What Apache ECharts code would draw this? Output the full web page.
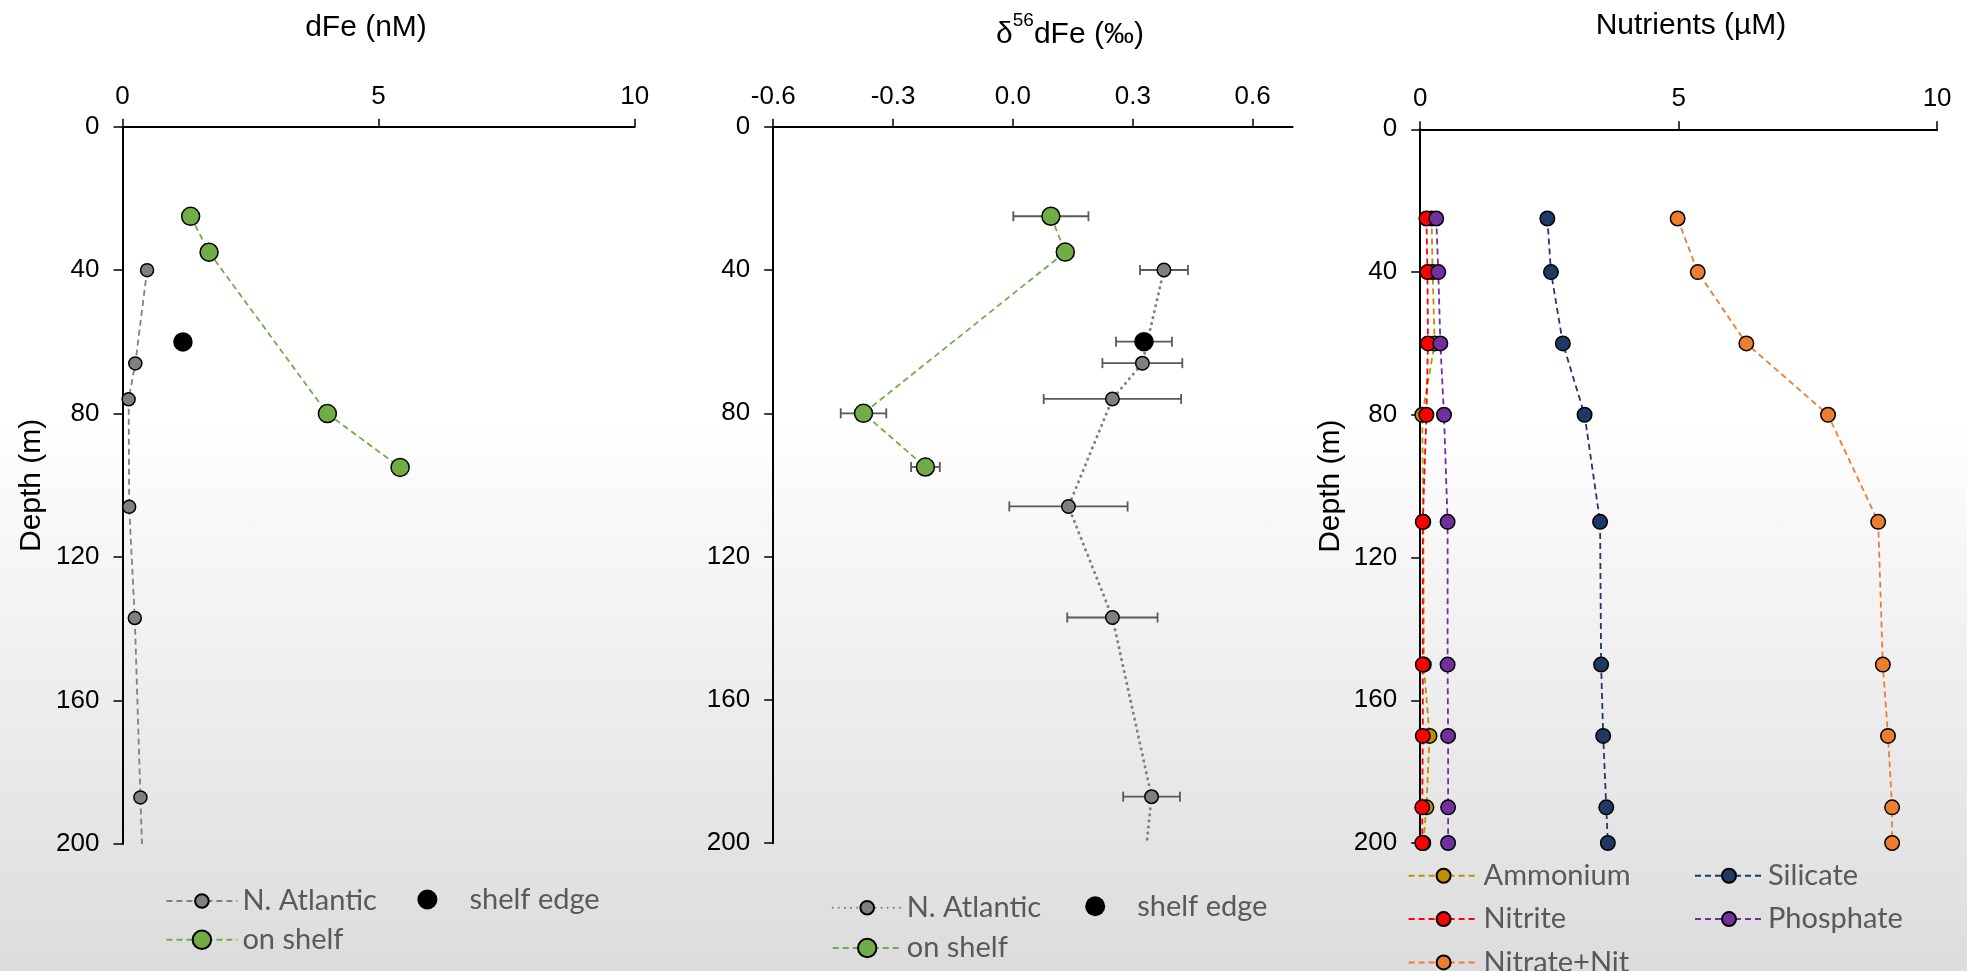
<!DOCTYPE html>
<html><head><meta charset="utf-8">
<script src="https://cdn.jsdelivr.net/npm/echarts@6/dist/echarts.min.js"></script>
<style>
html,body{margin:0;padding:0;width:1967px;height:971px;overflow:hidden;
background:linear-gradient(to bottom,#ffffff 0%,#ffffff 42%,#dcdcdc 100%);}
.c{position:absolute;left:0;top:0;width:1967px;height:971px;}
</style></head><body>
<div id="c1" class="c"></div><div id="c2" class="c"></div><div id="c3" class="c"></div>
<script>
// ---------- DATA ----------
// Panel 1: dFe (nM)
const depthNA = [40, 66, 76, 106, 137, 187, 200];
const dFeNA = [0.48, 0.25, 0.12, 0.13, 0.24, 0.35, 0.38];
const depthShelf = [25, 35, 80, 95];
const dFeShelf = [1.33, 1.69, 4.0, 5.42];
const depthEdge = [60];
const dFeEdge = [1.18];

// Panel 2: d56dFe (permil)
const isoDepthNA = [40, 66, 76, 106, 137, 187, 200];
const isoNA = [0.378, 0.324, 0.249, 0.139, 0.249, 0.347, 0.335];
const isoNAerr = [0.06, 0.10, 0.172, 0.148, 0.113, 0.071, null];
const isoDepthShelf = [25, 35, 80, 95];
const isoShelf = [0.095, 0.131, -0.374, -0.219];
const isoShelfErr = [0.094, 0.02, 0.057, 0.036];
const isoDepthEdge = [60];
const isoEdge = [0.328];
const isoEdgeErr = [0.07];
const isoTicks = [-0.6, -0.3, 0, 0.3, 0.6];

// Panel 3: Nutrients (uM)
const nutDepth = [25, 40, 60, 80, 110, 150, 170, 190, 200];
const ammonium = [0.22, 0.24, 0.28, 0.04, 0.06, 0.07, 0.18, 0.12, 0.06];
const nitrite = [0.12, 0.14, 0.15, 0.12, 0.05, 0.05, 0.05, 0.04, 0.04];
const nitrate = [4.98, 5.37, 6.31, 7.89, 8.86, 8.95, 9.05, 9.13, 9.13];
const silicate = [2.46, 2.53, 2.76, 3.18, 3.48, 3.50, 3.54, 3.60, 3.63];
const phosphate = [0.31, 0.35, 0.39, 0.46, 0.53, 0.53, 0.54, 0.54, 0.54];

const depthMax = 200;

// ---------- HELPERS ----------
const AX_FONT = 'Liberation Sans, Arial, sans-serif';
const LEG_TEXT = {color:'#595959', fontFamily:'Lato, Open Sans, sans-serif', fontSize:29};

function xTop(min, max, interval, extra) {
  return Object.assign({
    type:'value', position:'top', min:min, max:max, interval:interval,
    axisLine:{show:true, onZero:false, lineStyle:{color:'#000', width:2}},
    axisTick:{show:true, length:8, lineStyle:{color:'#000', width:1.5}},
    axisLabel:{color:'#000', fontSize:26, fontFamily:AX_FONT, margin:17},
    splitLine:{show:false}
  }, extra || {});
}
function yDepth(withName, gap) {
  return {
    type:'value', inverse:true, min:0, max:depthMax, interval:40,
    name: withName ? 'Depth (m)' : '', nameLocation:'middle', nameGap:gap || 80,
    nameTextStyle:{color:'#000', fontSize:30, fontFamily:AX_FONT},
    axisLine:{show:true, onZero:false, lineStyle:{color:'#000', width:2}},
    axisTick:{show:true, length:9, lineStyle:{color:'#000', width:1.5}},
    axisLabel:{color:'#000', fontSize:26, fontFamily:AX_FONT, margin:23},
    splitLine:{show:false}
  };
}
// lastHidden: the final point only carries the line down to the axis edge
function pts(xs, ds, lastHidden) {
  return ds.map((d, i) => (lastHidden && i === ds.length - 1)
    ? {value:[xs[i], d], symbolSize:0} : [xs[i], d]);
}
function lineSeries(name, xs, ds, color, size, dash, width, z, lastHidden) {
  return {
    name:name, type:'line', data:pts(xs, ds, lastHidden), symbol:'circle', symbolSize:size,
    showSymbol:true, clip:false, z:z || 3,
    lineStyle:{color:color, width:width || 1.8, type:dash, cap:'butt'},
    itemStyle:{color:color, borderColor:'#000', borderWidth:1.5, opacity:1},
    emphasis:{disabled:true}, animation:false
  };
}
function edgeSeries(xs, ds) {
  return {name:'shelf edge', type:'scatter', symbol:'circle', symbolSize:19.5, z:5,
    data:xs.map((v,i)=>[v, ds[i]]), itemStyle:{color:'#000', opacity:1},
    emphasis:{disabled:true}, animation:false};
}
function errSeries(xs, ds, errs) {
  const data = [];
  xs.forEach((x, i) => { if (errs[i] != null) data.push([x, ds[i], errs[i]]); });
  return {
    type:'custom', z:1, silent:true, animation:false,
    encode:{x:0, y:1},
    renderItem:function(params, api){
      const x = api.value(0), y = api.value(1), e = api.value(2);
      const a = api.coord([x - e, y]), b = api.coord([x + e, y]);
      const h = 5, st = {stroke:'#595959', lineWidth:1.8};
      return {type:'group', children:[
        {type:'line', shape:{x1:a[0], y1:a[1], x2:b[0], y2:b[1]}, style:st},
        {type:'line', shape:{x1:a[0], y1:a[1]-h, x2:a[0], y2:a[1]+h}, style:st},
        {type:'line', shape:{x1:b[0], y1:b[1]-h, x2:b[0], y2:b[1]+h}, style:st}
      ]};
    },
    data:data
  };
}
function leg(name, left, cy, w, h) {
  return {data:[name], left:left, top:cy - h/2, itemWidth:w, itemHeight:h,
    padding:0, selectedMode:false, textStyle:LEG_TEXT, itemGap:0};
}
function title(text, x, y) {
  return {type:'text', x:x, y:y, style:{text:text, fill:'#000', font:'30px ' + AX_FONT,
    align:'center', verticalAlign:'middle'}};
}

// ---------- PANEL 1 ----------
const ch1 = echarts.init(document.getElementById('c1'), null, {renderer:'canvas'});
ch1.setOption({
  backgroundColor:'transparent', animation:false,
  grid:{left:122.5, top:126.7, width:512.2, height:717.3, containLabel:false},
  xAxis:xTop(0, 10, 5),
  yAxis:yDepth(true, 76),
  graphic:[title('dFe (nM)', 366, 28)],
  legend:[
    leg('N. Atlantic', 165.4, 895, 71, 17),
    leg('shelf edge', 417.4, 895, 74, 20),
    leg('on shelf', 165.4, 936.7, 71, 23)
  ],
  series:[
    lineSeries('N. Atlantic', dFeNA, depthNA, '#808080', 13, [6,4], 1.8, 3, true),
    lineSeries('on shelf', dFeShelf, depthShelf, '#70AD47', 18, [6,4], 1.8, 4, false),
    edgeSeries(dFeEdge, depthEdge)
  ]
});

// ---------- PANEL 2 ----------
const ch2 = echarts.init(document.getElementById('c2'), null, {renderer:'canvas'});
const naDotted = lineSeries('N. Atlantic', isoNA, isoDepthNA, '#808080', 13.5, [0.1, 6], 3, 3, true);
naDotted.lineStyle.cap = 'round';
ch2.setOption({
  backgroundColor:'transparent', animation:false,
  grid:{left:773.2, top:126.7, width:519.4, height:716.5, containLabel:false},
  xAxis:xTop(-0.6, 0.7, 0.3, {
    axisTick:{show:true, length:8, lineStyle:{color:'#000', width:1.5}, customValues:isoTicks},
    axisLabel:{color:'#000', fontSize:26, fontFamily:AX_FONT, margin:17, customValues:isoTicks,
      formatter:v => Number(v).toFixed(1)}
  }),
  yAxis:yDepth(false),
  graphic:[{type:'text', x:1070, y:28, style:{
    text:'{a|δ}{s|56}{a|dFe (‰)}', align:'center', verticalAlign:'middle',
    rich:{a:{font:'30px ' + AX_FONT, fill:'#000', verticalAlign:'bottom', height:34},
          s:{font:'19px ' + AX_FONT, fill:'#000', verticalAlign:'top', height:34, padding:[0,0,14,0]}}}}],
  legend:[
    leg('N. Atlantic', 831.7, 901.7, 69, 17),
    leg('shelf edge', 1085.2, 901.7, 74, 20),
    leg('on shelf', 831.7, 945, 69, 23)
  ],
  series:[
    errSeries(isoNA, isoDepthNA, isoNAerr),
    errSeries(isoShelf, isoDepthShelf, isoShelfErr),
    errSeries(isoEdge, isoDepthEdge, isoEdgeErr),
    naDotted,
    lineSeries('on shelf', isoShelf, isoDepthShelf, '#70AD47', 18, [6,4], 1.8, 4, false),
    edgeSeries(isoEdge, isoDepthEdge)
  ]
});

// ---------- PANEL 3 ----------
const ch3 = echarts.init(document.getElementById('c3'), null, {renderer:'canvas'});
const nd = nutDepth;
ch3.setOption({
  backgroundColor:'transparent', animation:false,
  grid:{left:1420.2, top:129.3, width:516.9, height:713.7, containLabel:false},
  xAxis:xTop(0, 10, 5),
  yAxis:yDepth(true, 74),
  graphic:[title('Nutrients (µM)', 1691, 26)],
  legend:[
    leg('Ammonium', 1407.6, 870, 70, 17.5),
    leg('Silicate', 1694, 870, 68, 17.5),
    leg('Nitrite', 1407.6, 913.3, 70, 17.5),
    leg('Phosphate', 1694, 913.3, 68, 17.5),
    leg('Nitrate+Nit', 1407.6, 956.7, 70, 17.5)
  ],
  series:[
    lineSeries('Ammonium', ammonium, nd, '#BF9000', 14.5, [6,4], 1.8, 3, false),
    lineSeries('Nitrite', nitrite, nd, '#FF0000', 14.5, [6,4], 1.8, 4, false),
    lineSeries('Nitrate+Nit', nitrate, nd, '#ED7D31', 14.5, [6,4], 1.8, 5, false),
    lineSeries('Silicate', silicate, nd, '#203864', 14.5, [6,4], 1.8, 6, false),
    lineSeries('Phosphate', phosphate, nd, '#7030A0', 14.5, [6,4], 1.8, 7, false)
  ]
});
</script>
</body></html>
